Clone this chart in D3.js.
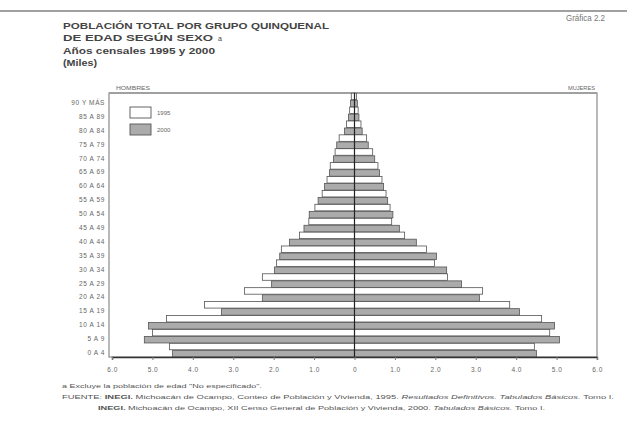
<!DOCTYPE html>
<html>
<head>
<meta charset="utf-8">
<script src="https://cdn.jsdelivr.net/npm/d3@7"></script>
<style>
  html, body { margin: 0; padding: 0; background: #fff; }
  svg { display: block; font-family: "Liberation Sans", Arial, sans-serif; }
</style>
</head>
<body>
<svg id="chart" width="627" height="424"></svg>
<script>
// ---- data ----
const ageGroups = ["0 A 4","5 A 9","10 A 14","15 A 19","20 A 24","25 A 29","30 A 34","35 A 39",
  "40 A 44","45 A 49","50 A 54","55 A 59","60 A 64","65 A 69","70 A 74","75 A 79","80 A 84","85 A 89","90 Y MÁS"];
const years = ["1995","2000"];
const men1995   = [4.58,5.00,4.65,3.71,2.72,2.28,1.93,1.81,1.36,1.13,0.98,0.80,0.68,0.60,0.48,0.38,0.20,0.12,0.08];
const men2000   = [4.50,5.20,5.10,3.29,2.28,2.05,1.98,1.85,1.61,1.25,1.12,0.90,0.74,0.62,0.52,0.44,0.25,0.15,0.10];
const women1995 = [4.45,4.83,4.63,3.84,3.17,2.30,1.98,1.78,1.24,0.92,0.88,0.78,0.68,0.58,0.45,0.30,0.16,0.09,0.05];
const women2000 = [4.50,5.07,4.95,4.08,3.09,2.65,2.28,2.03,1.53,1.11,0.95,0.82,0.72,0.62,0.50,0.34,0.19,0.11,0.07];
const tickValues = [-6,-5,-4,-3,-2,-1,0,1,2,3,4,5,6];
const titleLines = ["POBLACIÓN TOTAL POR GRUPO QUINQUENAL","DE EDAD SEGÚN SEXO","Años censales 1995 y 2000","(Miles)"];

const svg = d3.select("#chart");
const ink = "#444";

// scan artifact line at top
svg.append("line").attr("x1",0).attr("x2",627).attr("y1",11).attr("y2",11)
  .attr("stroke","#a0a0a0").attr("stroke-width",2);

// titles
const t = svg.append("g").attr("fill",ink).attr("font-weight","bold").attr("font-size",9.5);
t.append("text").attr("x",63).attr("y",29).attr("textLength",266).attr("lengthAdjust","spacingAndGlyphs").text(titleLines[0]);
t.append("text").attr("x",63).attr("y",41).attr("textLength",150).attr("lengthAdjust","spacingAndGlyphs").text(titleLines[1]);
t.append("text").attr("x",218).attr("y",41).attr("font-size",7).attr("font-weight","normal").text("a");
t.append("text").attr("x",63).attr("y",54).attr("font-size",9).attr("textLength",152).attr("lengthAdjust","spacingAndGlyphs").text(titleLines[2]);
t.append("text").attr("x",63).attr("y",66).attr("font-size",9).attr("textLength",34).attr("lengthAdjust","spacingAndGlyphs").text(titleLines[3]);
svg.append("text").attr("x",566).attr("y",21).attr("font-size",8.5).attr("fill","#777")
  .attr("textLength",39).attr("lengthAdjust","spacingAndGlyphs").text("Gráfica 2.2");

// scales
const x = d3.scaleLinear().domain([-6,6]).range([112,597]);
const yTop = 93, yBot = 357;
const y = d3.scaleBand().domain(ageGroups.slice().reverse()).range([yTop,yBot]).paddingInner(0);
const ySub = d3.scaleBand().domain(years).range([0,y.bandwidth()]).paddingInner(0.08).paddingOuter(0.02);

// frame
svg.append("rect").attr("x",x(-6)-3).attr("y",yTop).attr("width",x(6)-x(-6)+3).attr("height",yBot-yTop)
  .attr("fill","none").attr("stroke","#8a8a8a").attr("stroke-width",1.2);
svg.append("line").attr("x1",x(-6)-3).attr("x2",x(6)).attr("y1",yTop).attr("y2",yTop)
  .attr("stroke","#a0a0a0").attr("stroke-width",2);

// side headers
svg.append("text").attr("x",116).attr("y",yTop-3).attr("font-size",5).attr("fill","#666")
  .attr("textLength",34).attr("lengthAdjust","spacingAndGlyphs").text("HOMBRES");
svg.append("text").attr("x",568).attr("y",yTop-3).attr("font-size",5).attr("fill","#666")
  .attr("textLength",27).attr("lengthAdjust","spacingAndGlyphs").text("MUJERES");

// bars
const rows = [];
ageGroups.forEach((g,i) => {
  rows.push({g, yr:"1995", side:-1, v:men1995[i]});
  rows.push({g, yr:"2000", side:-1, v:men2000[i]});
  rows.push({g, yr:"1995", side: 1, v:women1995[i]});
  rows.push({g, yr:"2000", side: 1, v:women2000[i]});
});
svg.append("g").selectAll("rect").data(rows).join("rect")
  .attr("x", d => d.side < 0 ? x(-d.v) : x(0))
  .attr("width", d => Math.abs(x(d.v) - x(0)))
  .attr("y", d => y(d.g) + ySub(d.yr))
  .attr("height", ySub.bandwidth())
  .attr("fill", d => d.yr === "1995" ? "#ffffff" : "#ababab")
  .attr("stroke", "#555").attr("stroke-width", 0.8);

// center line
svg.append("line").attr("x1",x(0)).attr("x2",x(0)).attr("y1",yTop).attr("y2",yBot)
  .attr("stroke","#222").attr("stroke-width",1.2);

// y labels
svg.append("g").selectAll("text").data(ageGroups).join("text")
  .attr("x", 105).attr("y", d => y(d) + y.bandwidth()/2 + 5)
  .attr("text-anchor","end").attr("font-size",6.5).attr("letter-spacing",0.6)
  .attr("fill","#666").text(d => d);

// x axis
const ax = svg.append("g").attr("transform",`translate(0,${yBot})`)
  .call(d3.axisBottom(x).tickValues(tickValues).tickSize(3)
    .tickFormat(d => d === 0 ? "0" : d3.format(".1f")(Math.abs(d))));
ax.select(".domain").attr("stroke","#333").attr("stroke-width",1.4);
ax.selectAll(".tick line").attr("stroke","#777");
ax.selectAll(".tick text").attr("font-size",6.5).attr("fill","#666").attr("dy","1.35em")
  .attr("letter-spacing",0.5).attr("font-family","Liberation Sans, Arial, sans-serif");

// legend
const lg = svg.append("g");
years.forEach((yr,i) => {
  lg.append("rect").attr("x",130).attr("y",107 + i*17).attr("width",21).attr("height",11)
    .attr("fill", yr === "1995" ? "#fff" : "#ababab").attr("stroke","#555").attr("stroke-width",0.9);
  lg.append("text").attr("x",157).attr("y",115 + i*17).attr("font-size",6).attr("fill","#666").text(yr);
});

// footer
const f = svg.append("g").attr("font-size",6.2).attr("fill","#555");
f.append("text").attr("x",62).attr("y",388).attr("textLength",200).attr("lengthAdjust","spacingAndGlyphs")
  .text("a Excluye la población de edad \"No especificado\".");
const f2 = f.append("text").attr("x",62).attr("y",399).attr("textLength",552).attr("lengthAdjust","spacingAndGlyphs");
f2.append("tspan").text("FUENTE: ");
f2.append("tspan").attr("font-weight","bold").text("INEGI. ");
f2.append("tspan").text("Michoacán de Ocampo, Conteo de Población y Vivienda, 1995. ");
f2.append("tspan").attr("font-style","italic").text("Resultados Definitivos. Tabulados Básicos. ");
f2.append("tspan").text("Tomo I.");
const f3 = f.append("text").attr("x",98).attr("y",410).attr("textLength",447).attr("lengthAdjust","spacingAndGlyphs");
f3.append("tspan").attr("font-weight","bold").text("INEGI. ");
f3.append("tspan").text("Michoacán de Ocampo, XII Censo General de Población y Vivienda, 2000. ");
f3.append("tspan").attr("font-style","italic").text("Tabulados Básicos. ");
f3.append("tspan").text("Tomo I.");
</script>
</body>
</html>
